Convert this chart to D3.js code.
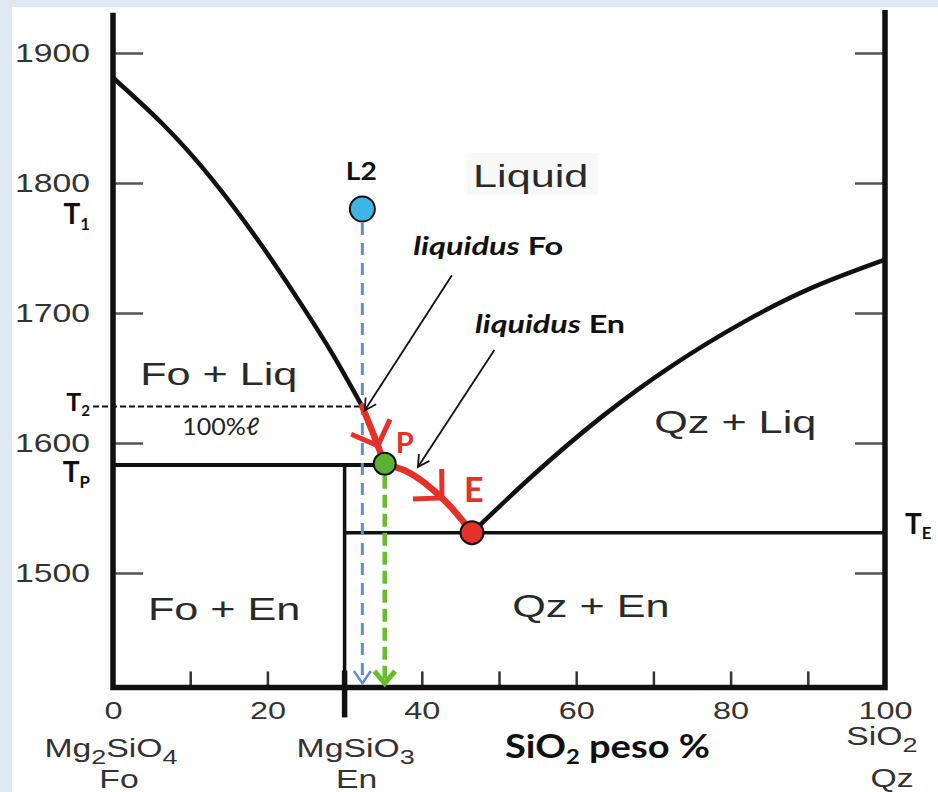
<!DOCTYPE html>
<html>
<head>
<meta charset="utf-8">
<script src="https://cdn.jsdelivr.net/npm/d3@7"></script>
<style>
  body { margin: 0; background: #e0e8f2; }
  svg { display: block; }
</style>
</head>
<body>
<div id="chart"></div>
<script>
// Axis ticks and labels
const tempTicks = [1500, 1600, 1700, 1800, 1900];
const compTicks = [10, 20, 40, 50, 60, 70, 80, 90];
const compLabels = [0, 20, 40, 60, 80, 100];

// Phase boundaries, [SiO2 wt%, T °C]
const liquidusFo = [[0, 1881], [6.5, 1845], [13, 1801.7], [19.4, 1750.8], [24.6, 1704.7], [28.5, 1667.8], [32.3, 1628]];
const liquidusQz = [[46.5, 1531], [54.3, 1574.6], [63.3, 1620.1], [72.4, 1659.4], [81.5, 1692.4], [90.5, 1719.3], [100, 1741]];
// cooling path of the melt: T2 -> P, then P -> E
const meltFo = [[32.3, 1628], [33.75, 1606.5], [35.2, 1584]];
const meltEn = [[35.2, 1584], [37.8, 1578.8], [40.4, 1569.1], [43, 1555.5], [44.95, 1542.6], [46.5, 1531]];
const flowArrowsAt = [34.3, 42.6];

const enComp = 30;
const tBottom = 1412, tTopLeft = 1931, tTopRight = 1933;
const tP = 1583, tE = 1531, t2 = 1628;

const pointL2 = [32.3, 1780];
const pointP = [35.2, 1584];
const pointE = [46.5, 1531];

const regionNames = ['Liquid', 'Fo + Liq', 'Qz + Liq', 'Fo + En', 'Qz + En'];
const tempMarks = [
  { sub: '1', t: 1779, side: 'left' },
  { sub: '2', t: 1628, side: 'left' },
  { sub: 'P', t: 1583, side: 'left' },
  { sub: 'E', t: 1531, side: 'right' }
];
const endMembers = [
  { comp: 0, formula: [['Mg', 0], ['2', 1], ['SiO', 0], ['4', 1]], mineral: 'Fo' },
  { comp: 30, formula: [['MgSiO', 0], ['3', 1]], mineral: 'En' },
  { comp: 100, formula: [['SiO', 0], ['2', 1]], mineral: 'Qz' }
];
const callouts = [
  { name: 'Fo', from: [43.9, 1729], to: [32.6, 1625], text: [38.9, 1744.6] },
  { name: 'En', from: [49.4, 1671.5], to: [39.5, 1581.5], text: [46.9, 1684.6] }
];

// layout only
const regionAt = {
  'Liquid': [54.1, 1797], 'Fo + Liq': [13.7, 1644.6], 'Qz + Liq': [80.6, 1607.7],
  'Fo + En': [14.4, 1463.8], 'Qz + En': [61.9, 1466]
};
const tempLabelDy = { '1': 14, '2': 4, 'P': 17, 'E': 1 };
const endLabelDx = [[-2, 6], [11, 12], [-3, 7]];
const endLabelY = [[757, 788], [757, 788], [745, 787]];

const W = 938, H = 792;
const STRETCH = 1.35;
const ARIAL = 'Liberation Sans, Arial, sans-serif';
const CAL = 'Lato, Open Sans, sans-serif';
const RED = '#e5312a';
const BLUE = '#5b8fd9';
const GREEN = '#6abb2e';

const x = d3.scaleLinear().domain([0, 100]).range([113, 885]);
const y = d3.scaleLinear().domain([1500, 1900]).range([573, 53]);
const yB = y(tBottom);

const svg = d3.select('#chart').append('svg')
  .attr('width', W)
  .attr('height', H);

svg.append('rect').attr('width', W).attr('height', H).attr('fill', '#e0e8f2');
svg.append('rect').attr('x', 12).attr('y', 7).attr('width', W - 12).attr('height', H - 7).attr('fill', '#fff');

// Left axis: ticks inward + labels
const axL = svg.append('g')
  .attr('transform', `translate(${x(0)},0)`)
  .call(d3.axisLeft(y).tickValues(tempTicks).tickSizeInner(-30).tickSizeOuter(0).tickPadding(23).tickFormat(d3.format('d')));
axL.select('.domain').remove();
axL.selectAll('line').attr('stroke', '#555').attr('stroke-width', 2.5);
axL.selectAll('text')
  .attr('x', -23 / STRETCH)
  .attr('transform', `scale(${STRETCH},1)`)
  .attr('font-family', ARIAL).attr('font-size', 25).attr('fill', '#333');

// Right axis: ticks only
const axR = svg.append('g')
  .attr('transform', `translate(${x(100)},0)`)
  .call(d3.axisRight(y).tickValues(tempTicks).tickSizeInner(-30).tickSizeOuter(0).tickFormat(''));
axR.select('.domain').remove();
axR.selectAll('line').attr('stroke', '#555').attr('stroke-width', 2.5);

// Bottom axis ticks
const axB = svg.append('g')
  .attr('transform', `translate(0,${yB})`)
  .call(d3.axisBottom(x).tickValues(compTicks).tickSizeInner(-16).tickSizeOuter(0).tickFormat(''));
axB.select('.domain').remove();
axB.selectAll('line').attr('stroke', '#333').attr('stroke-width', 2.5);

// Bottom axis labels
const axBL = svg.append('g')
  .attr('transform', `translate(0,${yB})`)
  .call(d3.axisBottom(x).tickValues(compLabels).tickSize(0).tickPadding(15));
axBL.select('.domain').remove();
axBL.selectAll('text')
  .attr('transform', `scale(${STRETCH},1)`)
  .attr('font-family', ARIAL).attr('font-size', 24).attr('fill', '#333');

// End member names
endMembers.forEach((m, i) => {
  const f = svg.append('text')
    .attr('transform', `translate(${x(m.comp) + endLabelDx[i][0]},${endLabelY[i][0]}) scale(${STRETCH},1)`)
    .attr('text-anchor', 'middle')
    .attr('font-family', ARIAL).attr('font-size', 25).attr('fill', '#333');
  m.formula.forEach(([s, sub], j) => {
    const prevSub = j > 0 ? m.formula[j - 1][1] : 0;
    f.append('tspan')
      .attr('font-size', sub ? 20 : 25)
      .attr('dy', sub ? 7 : (prevSub ? -7 : 0))
      .text(s);
  });
  svg.append('text')
    .attr('transform', `translate(${x(m.comp) + endLabelDx[i][1]},${endLabelY[i][1]}) scale(${STRETCH},1)`)
    .attr('text-anchor', 'middle')
    .attr('font-family', ARIAL).attr('font-size', 25).attr('fill', '#333')
    .text(m.mineral);
});

// Axis title
const title = svg.append('text')
  .attr('x', 505).attr('y', 758)
  .attr('font-family', CAL).attr('font-weight', 700).attr('font-size', 32).attr('fill', '#111')
  .attr('textLength', 205).attr('lengthAdjust', 'spacingAndGlyphs');
title.append('tspan').text('SiO');
title.append('tspan').attr('font-size', 20).attr('dy', 6).text('2');
title.append('tspan').attr('dy', -6).text(' peso %');

// Phase boundary straight lines
svg.append('line')
  .attr('x1', x(0)).attr('x2', x(pointP[0])).attr('y1', y(tP)).attr('y2', y(tP))
  .attr('stroke', '#111').attr('stroke-width', 4);
svg.append('line')
  .attr('x1', x(enComp)).attr('x2', x(enComp)).attr('y1', y(tP)).attr('y2', yB)
  .attr('stroke', '#111').attr('stroke-width', 3.5);
svg.append('line')
  .attr('x1', x(enComp)).attr('x2', x(100)).attr('y1', y(tE)).attr('y2', y(tE))
  .attr('stroke', '#111').attr('stroke-width', 3.5);
// En composition mark across the axis
svg.append('line')
  .attr('x1', x(enComp)).attr('x2', x(enComp)).attr('y1', yB - 17).attr('y2', yB + 30)
  .attr('stroke', '#111').attr('stroke-width', 5.5);

// Liquidus curves
const curve = d3.line().x(d => x(d[0])).y(d => y(d[1])).curve(d3.curveNatural);
svg.append('path').attr('d', curve(liquidusFo))
  .attr('fill', 'none').attr('stroke', '#111').attr('stroke-width', 4.5);
svg.append('path').attr('d', curve(liquidusQz))
  .attr('fill', 'none').attr('stroke', '#111').attr('stroke-width', 4.5);

// Frame
const frame = d3.line().x(d => x(d[0])).y(d => y(d[1]));
svg.append('path')
  .attr('d', frame([[0, tTopLeft], [0, tBottom], [100, tBottom], [100, tTopRight]]))
  .attr('fill', 'none').attr('stroke', '#111').attr('stroke-width', 5.5).attr('stroke-linejoin', 'miter');

// T2 dashed guide
svg.append('line')
  .attr('x1', 93).attr('x2', x(pointL2[0])).attr('y1', y(t2)).attr('y2', y(t2))
  .attr('stroke', '#111').attr('stroke-width', 2).attr('stroke-dasharray', '6,3');
svg.append('text')
  .attr('x', (x(0) + x(pointL2[0])) / 2 - 17).attr('y', y(t2) + 28)
  .attr('text-anchor', 'middle')
  .attr('font-family', CAL).attr('font-size', 24).attr('fill', '#222')
  .attr('textLength', 77).attr('lengthAdjust', 'spacingAndGlyphs')
  .text('100%ℓ');

function chevron(px, py, ang, len, spread, color, w) {
  const a1 = ang + Math.PI - spread, a2 = ang + Math.PI + spread;
  svg.append('path')
    .attr('d', `M${px + len * Math.cos(a1)},${py + len * Math.sin(a1)}L${px},${py}L${px + len * Math.cos(a2)},${py + len * Math.sin(a2)}`)
    .attr('fill', 'none').attr('stroke', color).attr('stroke-width', w)
    .attr('stroke-linejoin', 'miter').attr('stroke-linecap', 'butt');
}

// Vertical dashed drops
const tipY = yB - 4;
svg.append('line')
  .attr('x1', x(pointL2[0])).attr('x2', x(pointL2[0])).attr('y1', y(pointL2[1]) + 14).attr('y2', tipY - 2)
  .attr('stroke', BLUE).attr('stroke-width', 3).attr('stroke-dasharray', '12,8');
chevron(x(pointL2[0]), tipY, Math.PI / 2, 15, 0.6, BLUE, 2.5);

svg.append('line')
  .attr('x1', x(pointP[0])).attr('x2', x(pointP[0])).attr('y1', y(pointP[1]) + 12).attr('y2', tipY - 3)
  .attr('stroke', GREEN).attr('stroke-width', 4.5).attr('stroke-dasharray', '13,6');
chevron(x(pointP[0]), tipY, Math.PI / 2, 16, 0.7, GREEN, 5);

// Melt path (red) with flow arrows
[meltFo, meltEn].forEach(seg => {
  const node = svg.append('path').attr('d', curve(seg))
    .attr('fill', 'none').attr('stroke', RED).attr('stroke-width', 6.5).attr('stroke-linecap', 'round')
    .node();
  const total = node.getTotalLength();
  flowArrowsAt.filter(c => c > seg[0][0] && c < seg[seg.length - 1][0]).forEach(c => {
    let l = 0;
    while (l < total && x.invert(node.getPointAtLength(l).x) < c) l += 0.5;
    const p = node.getPointAtLength(l);
    const a = node.getPointAtLength(Math.max(0, l - 2));
    const b = node.getPointAtLength(Math.min(total, l + 2));
    chevron(p.x, p.y, Math.atan2(b.y - a.y, b.x - a.x), 29, 0.8, RED, 5);
  });
});

// Callouts
callouts.forEach(c => {
  const x1 = x(c.from[0]), y1 = y(c.from[1]), x2 = x(c.to[0]), y2 = y(c.to[1]);
  svg.append('line').attr('x1', x1).attr('y1', y1).attr('x2', x2).attr('y2', y2)
    .attr('stroke', '#111').attr('stroke-width', 1.8);
  chevron(x2, y2, Math.atan2(y2 - y1, x2 - x1), 13, 0.5, '#111', 1.8);
  const t = svg.append('text')
    .attr('x', x(c.text[0])).attr('y', y(c.text[1]))
    .attr('font-family', CAL).attr('font-weight', 700).attr('font-size', 25).attr('fill', '#111')
    .attr('textLength', 150).attr('lengthAdjust', 'spacingAndGlyphs');
  t.append('tspan').attr('font-style', 'italic').text('liquidus');
  t.append('tspan').text(' ' + c.name);
});

// Region labels
svg.append('rect')
  .attr('x', x(regionAt['Liquid'][0]) - 64).attr('y', y(regionAt['Liquid'][1]) - 34)
  .attr('width', 131).attr('height', 42).attr('fill', '#f8f8f8');
regionNames.forEach(r => {
  svg.append('text')
    .attr('transform', `translate(${x(regionAt[r][0])},${y(regionAt[r][1])}) scale(${STRETCH},1)`)
    .attr('text-anchor', 'middle')
    .attr('font-family', ARIAL).attr('font-size', 32).attr('fill', '#2a2a2a')
    .text(r);
});

// Temperature marks
tempMarks.forEach(m => {
  const left = m.side === 'left';
  const fs = m.sub === '2' ? 25 : 28;
  const t = svg.append('text')
    .attr('x', left ? 90 : 905).attr('y', y(m.t) + tempLabelDy[m.sub])
    .attr('text-anchor', left ? 'end' : 'start')
    .attr('font-family', CAL).attr('font-weight', 700).attr('font-size', fs).attr('fill', '#111');
  t.append('tspan').text('T');
  t.append('tspan').attr('font-size', fs * 0.6).attr('dy', fs * 0.2).text(m.sub);
});

// Points
svg.append('text')
  .attr('x', x(pointL2[0]) - 1).attr('y', y(pointL2[1]) - 29)
  .attr('text-anchor', 'middle')
  .attr('font-family', CAL).attr('font-weight', 700).attr('font-size', 25).attr('fill', '#111')
  .attr('textLength', 31).attr('lengthAdjust', 'spacingAndGlyphs')
  .text('L2');
svg.append('circle').attr('cx', x(pointL2[0])).attr('cy', y(pointL2[1])).attr('r', 12.5)
  .attr('fill', '#3db5e6').attr('stroke', '#111').attr('stroke-width', 2);
svg.append('circle').attr('cx', x(pointP[0])).attr('cy', y(pointP[1])).attr('r', 11)
  .attr('fill', '#5cb133').attr('stroke', '#111').attr('stroke-width', 2);
svg.append('circle').attr('cx', x(pointE[0])).attr('cy', y(pointE[1])).attr('r', 11.5)
  .attr('fill', RED).attr('stroke', '#111').attr('stroke-width', 2);

svg.append('text')
  .attr('x', x(pointP[0]) + 11).attr('y', y(pointP[1]) - 11)
  .attr('font-family', CAL).attr('font-weight', 700).attr('font-size', 29).attr('fill', RED)
  .text('P');
svg.append('text')
  .attr('x', x(pointE[0]) - 8).attr('y', y(pointE[1]) - 31)
  .attr('font-family', CAL).attr('font-weight', 700).attr('font-size', 34).attr('fill', RED)
  .text('E');
</script>
</body>
</html>
